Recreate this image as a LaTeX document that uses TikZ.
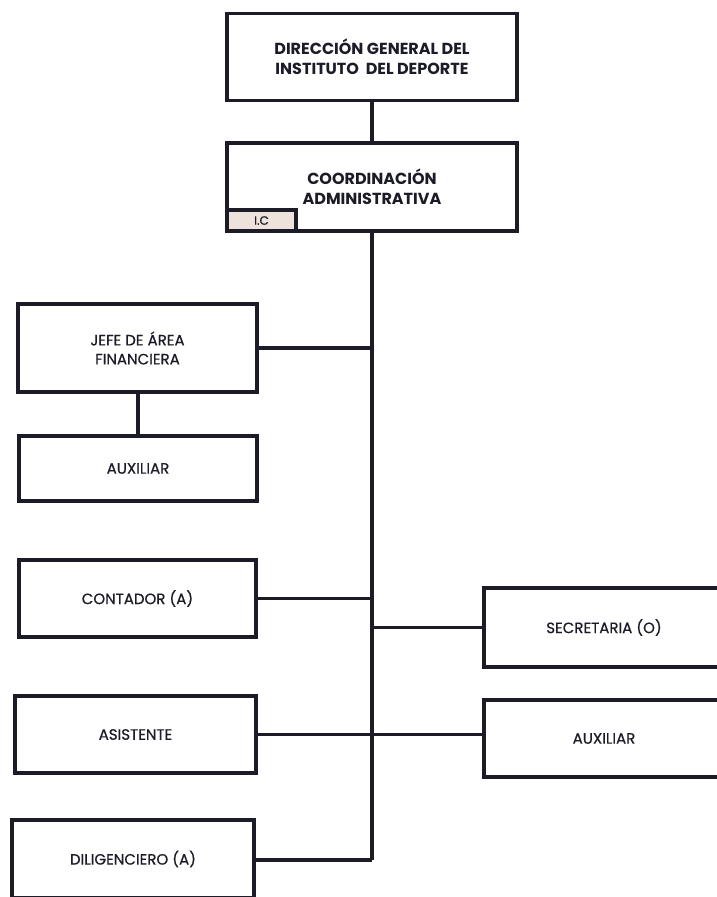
\documentclass[tikz,border=0pt]{standalone}
\usepackage{fontspec}
\setmainfont{Poppins}
\newfontfamily\medfont{Poppins}[FakeBold=0.6]
\definecolor{ink}{HTML}{1C1C28}
\definecolor{icfill}{HTML}{EDE3DA}
\begin{document}
\begin{tikzpicture}[x=1pt,y=-1pt,
  box/.style={draw=ink, line width=3.6pt, inner sep=0pt, align=center, text=ink,
    font=\medfont\fontsize{15}{19}\selectfont},
  bigbox/.style={box, font=\rmfamily\fontsize{16}{20}\selectfont\bfseries},
  link/.style={draw=ink, line width=3.6pt}]
\useasboundingbox (0,0) rectangle (717,897);
\clip (0,0) rectangle (717,897);
\fill[white] (0,0) rectangle (717,897);
\node[bigbox, minimum width=290pt, minimum height=87pt] (dir) at (372,57)
  {DIRECCIÓN GENERAL DEL\\INSTITUTO\ \ DEL DEPORTE};
\node[bigbox, minimum width=290pt, minimum height=88pt] (coord) at (372,187)
  {COORDINACIÓN\\ADMINISTRATIVA};
\node[box, fill=icfill, minimum width=69pt, minimum height=21pt, anchor=south west,
  font=\medfont\fontsize{12}{14}\selectfont] (ic) at (coord.south west) {I.C};
\node[box, minimum width=239pt, minimum height=88pt] (jefe) at (137.5,348)
  {JEFE DE ÁREA\\FINANCIERA};
\node[box, minimum width=238pt, minimum height=65pt] (aux1) at (138,468.5) {AUXILIAR};
\node[box, minimum width=237pt, minimum height=77pt] (cont) at (137.5,598.5) {CONTADOR (A)};
\node[box, minimum width=241pt, minimum height=77pt] (asis) at (135.5,734.5) {ASISTENTE};
\node[box, minimum width=242pt, minimum height=78pt] (dili) at (133,859) {DILIGENCIERO (A)};
\node[box, minimum width=240pt, minimum height=79pt] (secr) at (604,627.5) {SECRETARIA (O)};
\node[box, minimum width=240pt, minimum height=77pt] (aux2) at (604,738.5) {AUXILIAR};
\coordinate (tend) at (372,860);
\draw[link] (dir.south) -- (coord.north);
\draw[link] (coord.south) -- (tend);
\draw[link] (jefe.east) -- (jefe.east -| coord.south);
\draw[link] (jefe.south -| aux1.north) -- (aux1.north);
\draw[link] (cont.east) -- (cont.east -| coord.south);
\draw[link] (secr.west) -- (secr.west -| coord.south);
\draw[link] (asis.east) -- (asis.east -| aux2.west);
\draw[link] (dili.east |- tend) -- (tend);
\end{tikzpicture}
\end{document}
